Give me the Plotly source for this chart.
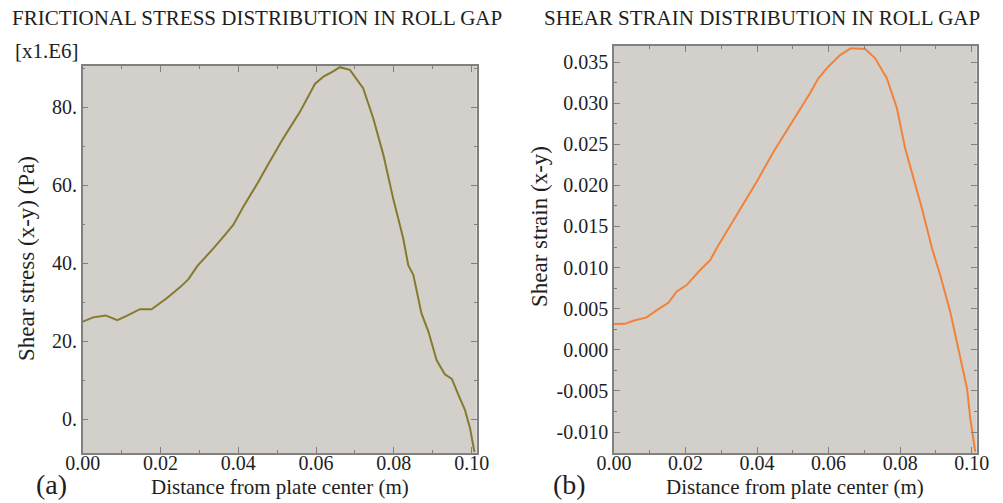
import plotly.graph_objects as go

# ---- data ----
stress_x = [0.0, 0.0027, 0.0059, 0.0089, 0.0117, 0.0147, 0.0177, 0.0216, 0.0250, 0.0272,
            0.0295, 0.0319, 0.0336, 0.0362, 0.0387, 0.0413, 0.0447, 0.0481, 0.0516, 0.0559,
            0.0597, 0.0619, 0.0644, 0.0661, 0.0687, 0.0721, 0.0747, 0.0773, 0.0798, 0.0824,
            0.0837, 0.0850, 0.0871, 0.0889, 0.0910, 0.0931, 0.0949, 0.0966, 0.0983, 0.0996, 0.1007]
stress_y = [25.0, 26.1, 26.6, 25.4, 26.7, 28.2, 28.2, 31.0, 33.8, 35.9,
            39.3, 42.1, 43.8, 46.8, 49.8, 54.5, 60.1, 66.1, 72.1, 78.9,
            86.0, 87.9, 89.2, 90.3, 89.6, 84.9, 77.2, 67.8, 56.7, 46.4,
            39.5, 37.0, 27.1, 22.4, 15.1, 11.5, 10.3, 6.2, 2.3, -2.4, -8.4]

strain_x = [0.0, 0.0031, 0.0054, 0.0091, 0.0124, 0.0152, 0.0175, 0.0203, 0.0241, 0.0269,
            0.0289, 0.0315, 0.0352, 0.0399, 0.0446, 0.0492, 0.0548, 0.0571, 0.0599, 0.0632,
            0.0662, 0.0702, 0.0730, 0.0763, 0.0791, 0.0814, 0.0833, 0.0861, 0.0889, 0.0912,
            0.0940, 0.0968, 0.0987, 0.0996, 0.1010]
strain_y = [0.00313, 0.00316, 0.00353, 0.00394, 0.00495, 0.00572, 0.00706, 0.00787, 0.0097, 0.01091,
            0.0125, 0.01436, 0.0170, 0.02044, 0.02409, 0.02734, 0.0312, 0.0330, 0.03443, 0.03585,
            0.03667, 0.03658, 0.03545, 0.0330, 0.02937, 0.0245, 0.02166, 0.0172, 0.01234, 0.00909,
            0.00462, -0.00105, -0.0047, -0.00835, -0.0124]

x_ticks = [0.0, 0.02, 0.04, 0.06, 0.08, 0.10]
x_ticklabels = ["0.00", "0.02", "0.04", "0.06", "0.08", "0.10"]
stress_ticks = [0, 20, 40, 60, 80]
stress_ticklabels = ["0.", "20.", "40.", "60.", "80."]
strain_ticks = [-0.010, -0.005, 0.0, 0.005, 0.010, 0.015, 0.020, 0.025, 0.030, 0.035]
strain_ticklabels = ["-0.010", "-0.005", "0.000", "0.005", "0.010", "0.015", "0.020",
                     "0.025", "0.030", "0.035"]

FONT = "Liberation Serif"
TXT = "#1e1e1e"
AX = "#808080"
BG = "#d3cfcb"
OFF = 8                      # page body margin
W, H = 1003 - OFF, 503 - OFF

fig = go.Figure()
fig.add_trace(go.Scatter(x=stress_x, y=stress_y, mode="lines",
                         line=dict(color="#857a2e", width=2), xaxis="x", yaxis="y",
                         showlegend=False))
fig.add_trace(go.Scatter(x=strain_x, y=strain_y, mode="lines",
                         line=dict(color="#f2823a", width=2), xaxis="x2", yaxis="y2",
                         showlegend=False))

common = dict(showline=True, linecolor=AX, linewidth=1.5, mirror="ticks",
              ticks="inside", ticklen=6, tickcolor=AX, tickwidth=1.2,
              showgrid=False, zeroline=False, automargin=False,
              tickfont=dict(family=FONT, size=20, color=TXT))

def dx(a, b):
    return [(a - OFF) / W, (b - OFF) / W]

def dy(top, bottom):
    return [1 - (bottom - OFF) / H, 1 - (top - OFF) / H]

fig.update_layout(
    width=W, height=H,
    margin=dict(l=0, r=0, t=0, b=0, pad=0),
    paper_bgcolor="white",
    plot_bgcolor=BG,
    xaxis=dict(domain=dx(82.7, 476.7), range=[0, 0.1013], anchor="y",
               tickvals=x_ticks, ticktext=x_ticklabels, ticklabelstandoff=-9,
               minor=dict(ticks="inside", dtick=0.01, ticklen=3, tickcolor=AX), **common),
    yaxis=dict(domain=dy(66, 453), range=[-8.7, 90.6], anchor="x",
               tickvals=stress_ticks, ticktext=stress_ticklabels,
               minor=dict(ticks="inside", dtick=10, ticklen=3, tickcolor=AX), **common),
    xaxis2=dict(domain=dx(614, 976.7), range=[0, 0.1014], anchor="y2",
                tickvals=x_ticks, ticktext=x_ticklabels, ticklabelstandoff=-9,
                minor=dict(ticks="inside", dtick=0.01, ticklen=3, tickcolor=AX), **common),
    yaxis2=dict(domain=dy(46, 453), range=[-0.01255, 0.03695], anchor="x2",
                tickvals=strain_ticks, ticktext=strain_ticklabels,
                minor=dict(ticks="inside", dtick=0.0025, ticklen=3, tickcolor=AX), **common),
)

def px_ann(text, x, y, size=20, angle=0):
    fig.add_annotation(text=text, x=(x - OFF) / W, y=1 - (y - OFF) / H,
                       xref="paper", yref="paper",
                       showarrow=False, textangle=angle, xanchor="center", yanchor="middle",
                       font=dict(family=FONT, size=size, color=TXT))

px_ann("FRICTIONAL STRESS DISTRIBUTION IN ROLL GAP", 257, 18, 21)
px_ann("SHEAR STRAIN DISTRIBUTION IN ROLL GAP", 762, 18, 21)
px_ann("[x1.E6]", 47, 51, 21)
px_ann("Shear stress (x-y) (Pa)", 26, 259, 23, -90)
px_ann("Shear strain (x-y)", 540, 227, 23, -90)
px_ann("Distance from plate center (m)", 280, 487, 21)
px_ann("Distance from plate center (m)", 795, 487, 21)
px_ann("(a)", 51, 484, 28)
px_ann("(b)", 569, 484, 28)

fig.write_html("out.html")
